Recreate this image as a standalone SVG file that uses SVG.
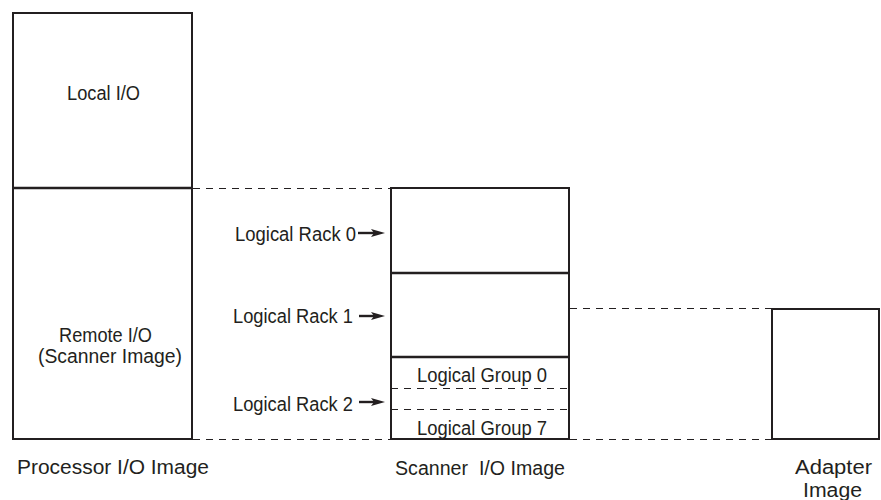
<svg xmlns="http://www.w3.org/2000/svg" width="881" height="500" viewBox="0 0 881 500">
<style>
.box{fill:#fff;stroke:#231f20;stroke-width:2}
.div{stroke:#231f20;stroke-width:2.5}
.dash{stroke:#231f20;stroke-width:1.2;stroke-dasharray:7,6;fill:none}
.lbl{font-family:"Liberation Sans",Arial,sans-serif;font-size:19.5px;fill:#231f20}
.arr{stroke:#231f20;stroke-width:2.4}
.head{fill:#231f20}
</style>
<defs>
<path id="ah" class="head" d="M-14,-4 L0,0 L-14,4 L-11,0 Z"/>
</defs>
<g id="connectors">
<line class="dash" x1="193" y1="188.5" x2="391" y2="188.5"/>
<line class="dash" x1="193" y1="439.5" x2="391" y2="439.5"/>
<line class="dash" x1="570" y1="439.5" x2="772" y2="439.5"/>
<line class="dash" x1="570" y1="308.5" x2="772" y2="308.5"/>
<line class="arr" x1="358" y1="233" x2="376" y2="233"/>
<use href="#ah" x="385" y="233"/>
<line class="arr" x1="359" y1="316" x2="376" y2="316"/>
<use href="#ah" x="385" y="316"/>
<line class="arr" x1="359" y1="402" x2="376" y2="402"/>
<use href="#ah" x="385" y="402"/>
</g>
<g id="processor">
<rect class="box" x="13" y="13" width="179" height="426"/>
<line class="div" x1="13" y1="188" x2="192" y2="188"/>
<text class="lbl" x="67" y="100" textLength="73" lengthAdjust="spacingAndGlyphs">Local I/O</text>
<text class="lbl" x="59" y="342" textLength="93" lengthAdjust="spacingAndGlyphs">Remote I/O</text>
<text class="lbl" x="38" y="363" textLength="144" lengthAdjust="spacingAndGlyphs">(Scanner Image)</text>
<text class="lbl" x="17" y="474" textLength="192" lengthAdjust="spacingAndGlyphs">Processor I/O Image</text>
</g>
<g id="scanner">
<rect class="box" x="391" y="188" width="178" height="251"/>
<line class="div" x1="391" y1="273" x2="569" y2="273"/>
<line class="div" x1="391" y1="357" x2="569" y2="357"/>
<line class="dash" x1="391" y1="388.5" x2="573" y2="388.5"/>
<line class="dash" x1="391" y1="409.5" x2="573" y2="409.5"/>
<text class="lbl" x="417" y="382" textLength="130" lengthAdjust="spacingAndGlyphs">Logical Group 0</text>
<text class="lbl" x="417" y="435" textLength="130" lengthAdjust="spacingAndGlyphs">Logical Group 7</text>
<text class="lbl" x="395" y="475" textLength="170" lengthAdjust="spacingAndGlyphs" xml:space="preserve">Scanner  I/O Image</text>
</g>
<g id="racks">
<text class="lbl" x="235" y="241" textLength="121" lengthAdjust="spacingAndGlyphs">Logical Rack 0</text>
<text class="lbl" x="233" y="323" textLength="120" lengthAdjust="spacingAndGlyphs">Logical Rack 1</text>
<text class="lbl" x="233" y="411" textLength="120" lengthAdjust="spacingAndGlyphs">Logical Rack 2</text>
</g>
<g id="adapter">
<rect class="box" x="772" y="309" width="107" height="130"/>
<text class="lbl" x="795" y="474" textLength="77" lengthAdjust="spacingAndGlyphs">Adapter</text>
<text class="lbl" x="803" y="497" textLength="59" lengthAdjust="spacingAndGlyphs">Image</text>
</g>
</svg>
